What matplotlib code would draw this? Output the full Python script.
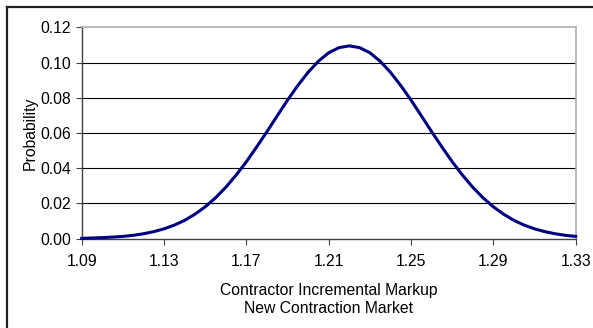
import numpy as np
import matplotlib
matplotlib.use("Agg")
from matplotlib import pyplot as plt
from matplotlib.lines import Line2D

# markup values and probability of each
markup = [1.090, 1.095, 1.100, 1.105, 1.110, 1.115, 1.120, 1.125, 1.130, 1.135,
          1.140, 1.145, 1.150, 1.155, 1.160, 1.165, 1.170, 1.175, 1.180, 1.185,
          1.190, 1.195, 1.200, 1.205, 1.210, 1.215, 1.220, 1.225, 1.230, 1.235,
          1.240, 1.245, 1.250, 1.255, 1.260, 1.265, 1.270, 1.275, 1.280, 1.285,
          1.290, 1.295, 1.300, 1.305, 1.310, 1.315, 1.320, 1.325, 1.330]
prob = [0.0002, 0.0004, 0.0006, 0.0009, 0.0013, 0.0019, 0.0028, 0.0040, 0.0056, 0.0077,
        0.0104, 0.0139, 0.0181, 0.0232, 0.0292, 0.0361, 0.0437, 0.0521, 0.0608, 0.0698,
        0.0787, 0.0870, 0.0945, 0.1008, 0.1056, 0.1085, 0.1095, 0.1085, 0.1056, 0.1008,
        0.0945, 0.0870, 0.0787, 0.0698, 0.0608, 0.0521, 0.0437, 0.0361, 0.0292, 0.0232,
        0.0181, 0.0139, 0.0104, 0.0077, 0.0056, 0.0040, 0.0028, 0.0019, 0.0013]

xticks = [1.09, 1.13, 1.17, 1.21, 1.25, 1.29, 1.33]
yticks = [0.00, 0.02, 0.04, 0.06, 0.08, 0.10, 0.12]

plt.rcParams['font.family'] = ['Liberation Sans', 'DejaVu Sans']
plt.rcParams['font.size'] = 11.3

fig = plt.figure(figsize=(5.93, 3.28), dpi=100)
ax = fig.add_axes([0.1378, 0.2723, 0.833, 0.6442])

# gridlines
for y in yticks[1:-1]:
    ax.axhline(y, color="black", linewidth=0.8, zorder=1)

ax.plot(markup, prob, color="#000080", linewidth=2.2, zorder=3, clip_on=False)

ax.set_xlim(1.09, 1.33)
ax.set_ylim(0, 0.12)
ax.set_xticks(xticks)
ax.set_xticklabels(["%.2f" % v for v in xticks])
ax.set_yticks(yticks)
ax.set_yticklabels(["%.2f" % v for v in yticks])
ax.tick_params(direction="out", length=4, width=0.8, color="#404040")
ax.tick_params(axis="x", pad=7)
ax.tick_params(axis="y", pad=3.5)

for side in ["left", "bottom"]:
    ax.spines[side].set_color("#404040")
    ax.spines[side].set_linewidth(1.0)
for side in ["top", "right"]:
    ax.spines[side].set_color("#b0b0b0")
    ax.spines[side].set_linewidth(1.2)

ax.set_ylabel("Probability", labelpad=2)
ax.set_xlabel("Contractor Incremental Markup\nNew Contraction Market",
              labelpad=10, linespacing=1.3)

# outer chart border (only the top and left edges fall inside the image)
fig.add_artist(Line2D([0.0118, 1.0], [0.9796, 0.9796], color="#202020", linewidth=1.6))
fig.add_artist(Line2D([0.0118, 0.0118], [0.0, 0.9796], color="#202020", linewidth=1.6))

fig.savefig("out.png", dpi=100)
